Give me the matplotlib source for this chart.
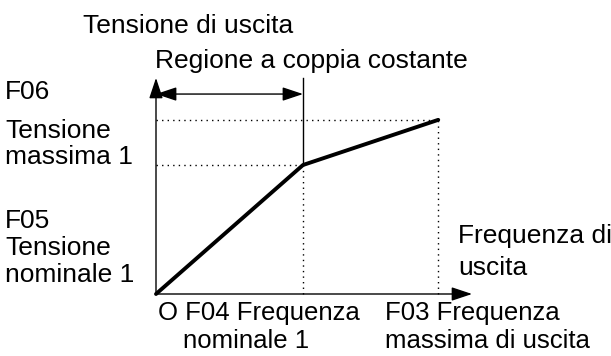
import matplotlib.pyplot as plt

plt.rcParams['font.family'] = ['Liberation Sans', 'DejaVu Sans']

# V/f characteristic (normalised: F04 = 1, F05 = 1)
freq = [0.0, 1.0, 1.92]      # 0, F04 nominal freq, F03 max freq
volt = [0.0, 1.0, 1.35]      # 0, F05 nominal voltage, F06 max voltage
axis_ends = [2.15, 1.675]    # length of the frequency / voltage axes
region_y = 1.55              # height of the constant torque arrow

W, H = 611, 356
ox, oy = 156, 294            # origin in pixels
sx, sy = 147, 129            # pixels per unit

fig = plt.figure(figsize=(W / 100, H / 100), dpi=100)
ax = fig.add_axes([0, 0, 1, 1])
ax.set_xlim(-ox / sx, (W - ox) / sx)
ax.set_ylim(-(H - oy) / sy, oy / sy)
ax.axis('off')

arrow = dict(arrowstyle='-|>,head_length=0.9,head_width=0.3', lw=1, color='black',
             shrinkA=0, shrinkB=0, mutation_scale=14)

# axes
ax.annotate('', xy=(0, axis_ends[1]), xytext=(0, 0), arrowprops=arrow)
ax.annotate('', xy=(axis_ends[0], 0), xytext=(0, 0), arrowprops=arrow)

# guide lines
dots = dict(color='black', lw=1, linestyle=(0, (1, 3)))
ax.plot([0, freq[1]], [volt[1], volt[1]], **dots)
ax.plot([0, freq[2]], [volt[2], volt[2]], **dots)
ax.plot([freq[1], freq[1]], [0, volt[1]], **dots)
ax.plot([freq[2], freq[2]], [0, volt[2]], **dots)

# constant torque region
ax.plot([freq[1], freq[1]], [volt[1], axis_ends[1]], color='black', lw=1)
ax.annotate('', xy=(freq[1], region_y), xytext=(0, region_y),
            arrowprops=dict(arrow, arrowstyle='<|-|>,head_length=0.9,head_width=0.3'))

# characteristic
ax.plot(freq, volt, color='black', lw=2.8, solid_capstyle='round', solid_joinstyle='round')


def label(x, y, s, size=19):
    ax.text(x / W, 1 - y / H, s, transform=ax.transAxes, fontsize=size,
            ha='left', va='baseline', color='black')


label(83, 33, 'Tensione di uscita')
label(155, 68, 'Regione a coppia costante')
label(5, 99, 'F06')
label(5, 138, 'Tensione')
label(5, 164, 'massima 1')
label(5, 228, 'F05')
label(5, 255, 'Tensione')
label(5, 282, 'nominale 1')
label(458, 243, 'Frequenza di')
label(458, 275, 'uscita')
label(158, 320, 'O F04 Frequenza', 18.5)
label(183, 348, 'nominale 1', 18.5)
label(385, 320, 'F03 Frequenza', 18.5)
label(385, 348, 'massima di uscita', 18.5)

fig.savefig('out.png', dpi=100)
